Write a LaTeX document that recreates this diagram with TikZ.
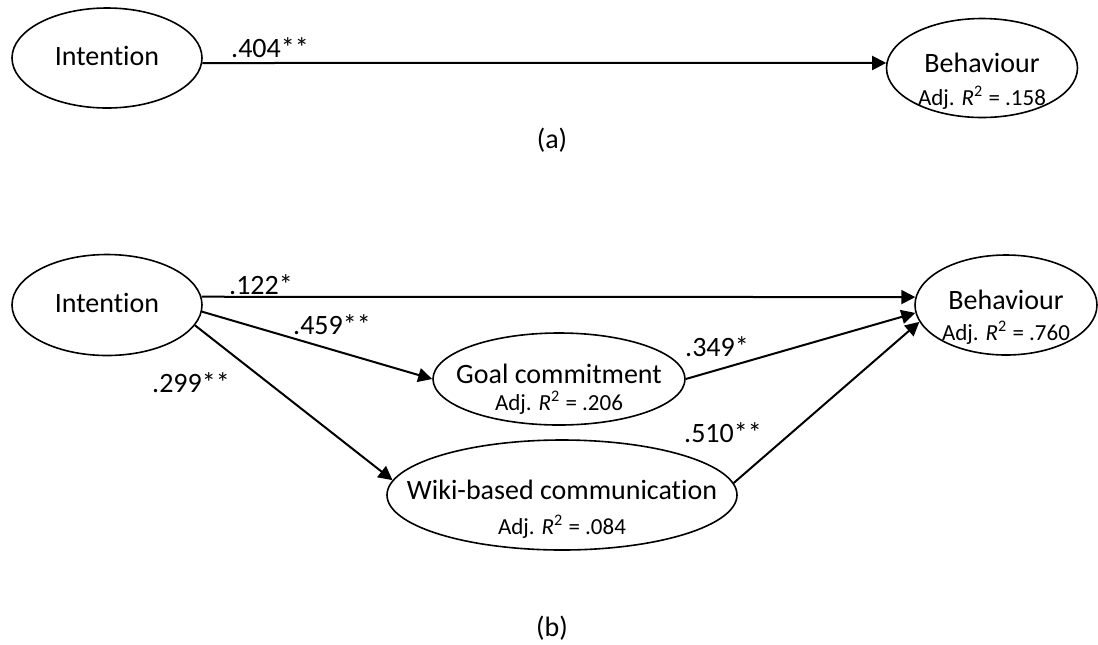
\documentclass[tikz,border=0pt]{standalone}
\usepackage{fontspec}
\setmainfont{Carlito}[Ligatures=NoCommon]
\usepackage{tikz}
\usetikzlibrary{shapes,arrows.meta,positioning,calc}

\begin{document}
\begin{tikzpicture}[
    x=0.5pt, y=-0.5pt,
    var/.style={ellipse, draw, line width=0.8pt, inner ysep=0pt, inner xsep=-20pt, text height=10pt, text depth=6pt, font=\fontsize{14}{16}\selectfont},
    r2/.style={inner sep=0pt, font=\fontsize{11.5}{13}\selectfont},
    coef/.style={inner sep=0pt, font=\fontsize{14}{16}\selectfont},
    arrow/.style={-{Triangle[length=7pt,width=7pt]}, line width=1pt}
]
\useasboundingbox (0,0) rectangle (1098,644);

% Model (a)
\node[var, text depth=3pt, minimum width=95pt, minimum height=50pt] (inta) at (107,58) {Intention};
\node[var, minimum width=95.5pt, minimum height=49.5pt] (beha) at (982,68) {Behaviour};
\node[r2] (beha_r2) at ([yshift=-15pt]beha.center) {Adj. \textit{R}\textsuperscript{2} = .158};

% Model (b)
\node[var, text depth=3pt, minimum width=95pt, minimum height=50.5pt] (intb) at (107,305) {Intention};
\node[var, minimum width=126pt, minimum height=46pt] (goal) at (559,379) {Goal commitment};
\node[var, minimum width=175pt, minimum height=55pt] (wiki) at (562,495) {Wiki-based communication};
\node[var, minimum width=91pt, minimum height=50pt] (behb) at (1006,305) {Behaviour};
\node[r2] (goal_r2) at ([yshift=-12pt]goal.center) {Adj. \textit{R}\textsuperscript{2} = .206};
\node[r2] (wiki_r2) at ([yshift=-16pt]wiki.center) {Adj. \textit{R}\textsuperscript{2} = .084};
\node[r2] (behb_r2) at ([yshift=-14pt]behb.center) {Adj. \textit{R}\textsuperscript{2} = .760};

% Arrows
\draw[arrow] (inta.-3) -- (beha.177);
\draw[arrow] (intb.5) -- (behb.175);
\draw[arrow] (intb.-4) -- (goal.west);
\draw[arrow] (intb.-13) -- (wiki.175);
\draw[arrow] (goal.east) -- (behb.185);
\draw[arrow] (wiki.4) -- (behb.191);

% Coefficients
\node[coef] (c404) at (270,48) {.404**};
\node[coef] (c122) at (261,285) {.122*};
\node[coef] (c459) at (332,325) {.459**};
\node[coef] (c299) at (191,383) {.299**};
\node[coef] (c349) at (717,347) {.349*};
\node[coef] (c510) at (723,433) {.510**};

% Labels
\node[coef] (lbla) at (552,140) {(a)};
\node[coef] (lblb) at (552,628) {(b)};

\end{tikzpicture}
\end{document}
